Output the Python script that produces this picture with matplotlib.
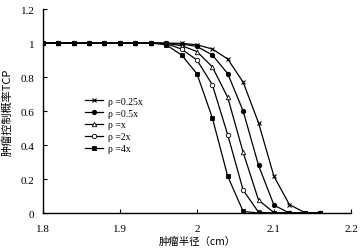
import matplotlib
matplotlib.use("Agg")
import matplotlib.pyplot as plt
import numpy as np

plt.rcParams['font.family'] = ['Liberation Serif', 'Noto Sans CJK SC', 'DejaVu Sans']

radius = [1.80, 1.82, 1.84, 1.86, 1.88, 1.90, 1.92, 1.94, 1.96, 1.98,
          2.00, 2.02, 2.04, 2.06, 2.08, 2.10, 2.12, 2.14, 2.16]

tcp_025x = [1, 1, 1, 1, 1, 1, 1, 1, 0.999, 0.998, 0.99, 0.965, 0.906, 0.77, 0.53, 0.216, 0.05, 0.003, 0]
tcp_05x  = [1, 1, 1, 1, 1, 1, 1, 1, 0.999, 0.995, 0.98, 0.93, 0.82, 0.60, 0.28, 0.047, 0, 0, 0]
tcp_1x   = [1, 1, 1, 1, 1, 1, 1, 1, 0.998, 0.985, 0.95, 0.86, 0.68, 0.357, 0.076, 0.003, 0, 0, 0]
tcp_2x   = [1, 1, 1, 1, 1, 1, 1, 1, 0.996, 0.965, 0.90, 0.755, 0.46, 0.135, 0.005, 0, 0, 0, 0]
tcp_4x   = [1, 1, 1, 1, 1, 1, 1, 1, 0.99, 0.93, 0.82, 0.56, 0.216, 0.01, 0, 0, 0, 0, 0]

labels = ["ρ =0.25x", "ρ =0.5x", "ρ =x", "ρ =2x", "ρ =4x"]
xticks = [1.8, 1.9, 2.0, 2.1, 2.2]
xticklabels = ["1.8", "1.9", "2", "2.1", "2.2"]
yticks = [0, 0.2, 0.4, 0.6, 0.8, 1.0, 1.2]
yticklabels = ["0", "0.2", "0.4", "0.6", "0.8", "1", "1.2"]

fig = plt.figure(figsize=(3.63, 2.51), dpi=100)
ax = fig.add_axes([0.118, 0.147, 0.849, 0.813])

series = [tcp_025x, tcp_05x, tcp_1x, tcp_2x, tcp_4x]
styles = [dict(marker='x', mfc='black', ms=3.5, mew=0.8),
          dict(marker='o', mfc='black', ms=3.2, mew=0.6),
          dict(marker='^', mfc='white', ms=3.2, mew=0.6),
          dict(marker='o', mfc='white', ms=3.2, mew=0.6),
          dict(marker='s', mfc='black', ms=2.8, mew=0.6)]
for ys, lab, st in zip(series, labels, styles):
    ax.plot(radius, ys, color='black', lw=0.9, mec='black', label=lab, **st)

ax.set_xlim(1.8, 2.2)
ax.set_ylim(0, 1.2)
ax.set_xticks(xticks)
ax.set_xticklabels(xticklabels)
ax.set_yticks(yticks)
ax.set_yticklabels(yticklabels)
ax.tick_params(direction='in', length=3, width=0.8, labelsize=8)
ax.tick_params(axis='x', pad=8)
ax.tick_params(axis='y', pad=6)
for s in ['top', 'right']:
    ax.spines[s].set_visible(False)
for s in ['left', 'bottom']:
    ax.spines[s].set_linewidth(1.0)

ax.set_xlabel("肿瘤半径（cm）", fontsize=7.5, family=['Noto Sans CJK SC', 'DejaVu Sans'], labelpad=2)
ax.set_ylabel("肿瘤控制概率TCP", fontsize=8, family=['Noto Sans CJK SC', 'DejaVu Sans'], labelpad=6)

ax.legend(loc='upper left', bbox_to_anchor=(0.125, 0.59), frameon=False, fontsize=7,
          handlelength=1.8, handletextpad=0.5, labelspacing=0.3, borderaxespad=0)

fig.savefig("out.png", dpi=100)
